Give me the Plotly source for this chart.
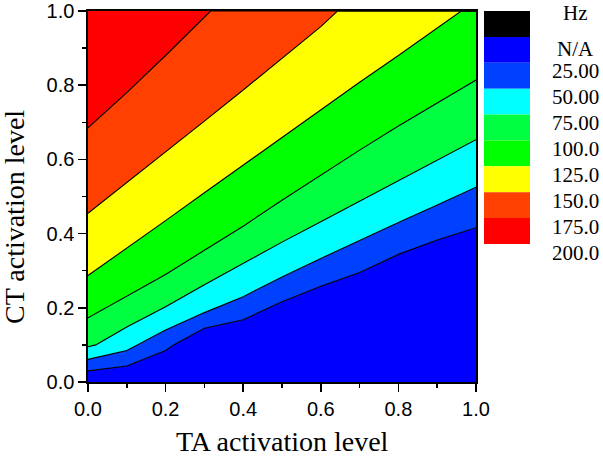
import plotly.graph_objects as go

# ---------------- data ----------------
# Contour boundary lines: x = TA activation level, y = CT activation level
lvl25_x = [0.0, 0.1, 0.2, 0.22, 0.3, 0.4, 0.5, 0.6, 0.7, 0.8, 0.9, 1.0]
lvl25_y = [0.030, 0.043, 0.085, 0.100, 0.145, 0.168, 0.216, 0.258, 0.295, 0.344, 0.383, 0.416]

lvl50_x = [0.0, 0.1, 0.2, 0.3, 0.4, 0.5, 0.6, 0.7, 0.8, 0.9, 1.0]
lvl50_y = [0.061, 0.085, 0.140, 0.187, 0.230, 0.283, 0.333, 0.382, 0.430, 0.477, 0.525]

lvl75_x = [0.0, 0.02, 0.1, 0.2, 0.3, 0.4, 0.5, 0.6, 0.7, 0.8, 0.9, 1.0]
lvl75_y = [0.095, 0.100, 0.148, 0.203, 0.262, 0.320, 0.377, 0.432, 0.487, 0.542, 0.597, 0.653]

lvl100_x = [0.0, 0.1, 0.2, 0.3, 0.4, 0.5, 0.6, 0.7, 0.8, 0.9, 1.0]
lvl100_y = [0.173, 0.232, 0.290, 0.355, 0.420, 0.490, 0.558, 0.625, 0.690, 0.752, 0.814]

lvl125_x = [0.0, 0.1, 0.2, 0.3, 0.4, 0.5, 0.6, 0.7, 0.8, 0.9, 0.962]
lvl125_y = [0.287, 0.360, 0.435, 0.510, 0.585, 0.660, 0.735, 0.808, 0.880, 0.953, 1.0]

lvl150_x = [0.0, 0.1, 0.2, 0.3, 0.4, 0.5, 0.6, 0.643]
lvl150_y = [0.455, 0.537, 0.620, 0.703, 0.787, 0.872, 0.958, 1.0]

lvl175_x = [0.0, 0.1, 0.2, 0.3, 0.316]
lvl175_y = [0.685, 0.780, 0.880, 0.983, 1.0]

levels = [25, 50, 75, 100, 125, 150, 175]
lines_x = [lvl25_x, lvl50_x, lvl75_x, lvl100_x, lvl125_x, lvl150_x, lvl175_x]
lines_y = [lvl25_y, lvl50_y, lvl75_y, lvl100_y, lvl125_y, lvl150_y, lvl175_y]

# Legend (colour key) entries, top to bottom
cb_colors = ["#000000", "#0000FF", "#0040FF", "#00FFFF", "#00FF40",
             "#00FF00", "#FFFF00", "#FF4000", "#FF0000"]
cb_labels = ["Hz", "N/A", "25.00", "50.00", "75.00", "100.0",
             "125.0", "150.0", "175.0", "200.0"]

band_colors = cb_colors[1:]  # 0-25, 25-50, ..., 175-200

X_MIN, X_MAX = 0.0, 1.0
Y_MIN, Y_MAX = 0.0, 1.0

# ---------------- figure ----------------
fig = go.Figure()

# baseline of the lowest band (bottom of the plot)
fig.add_trace(go.Scatter(x=[X_MIN, X_MAX], y=[Y_MIN, Y_MIN], mode="lines",
                         line=dict(width=0, color="rgba(0,0,0,0)"),
                         hoverinfo="skip", showlegend=False))

for i, (lx, ly) in enumerate(zip(lines_x, lines_y)):
    xs = list(lx)
    ys = list(ly)
    if ys[-1] >= Y_MAX and xs[-1] < X_MAX:
        # line leaves through the top edge: follow the frame to the corner
        xs.append(X_MAX)
        ys.append(Y_MAX)
    fig.add_trace(go.Scatter(x=xs, y=ys, mode="lines",
                             line=dict(color="black", width=1.1),
                             fill="tonexty", fillcolor=band_colors[i],
                             name=str(levels[i]), hoverinfo="skip",
                             showlegend=False))

# top band (above the last line)
fig.add_trace(go.Scatter(x=[X_MIN, X_MAX], y=[Y_MAX, Y_MAX], mode="lines",
                         line=dict(width=0, color="rgba(0,0,0,0)"),
                         fill="tonexty", fillcolor=band_colors[-1],
                         hoverinfo="skip", showlegend=False))

# colour key as stacked blocks on a secondary axis
n_blocks = len(cb_colors)
fig.add_trace(go.Bar(x=[0] * n_blocks, y=[1] * n_blocks,
                     base=list(range(n_blocks)), width=1,
                     marker=dict(color=cb_colors, line=dict(width=0)),
                     xaxis="x2", yaxis="y2", hoverinfo="skip",
                     showlegend=False))

W, H = 603, 460
px0, px1 = 88, 476
py0, py1 = 11, 382
key_top, key_bot = 11, 244
block_h = (key_bot - key_top) / n_blocks

tick_font = dict(family="Liberation Sans, Arial, sans-serif", size=20, color="black")
serif = "Liberation Serif, Times New Roman, serif"

axis_common = dict(
    showgrid=False, zeroline=False, showline=True, linecolor="black",
    linewidth=1.6, mirror=True, ticks="outside", ticklen=8, tickwidth=1.5,
    tickcolor="black", tickfont=tick_font, tickformat=".1f", dtick=0.2,
    automargin=False,
    minor=dict(dtick=0.1, ticks="outside", ticklen=4, tickwidth=1.5,
               tickcolor="black", showgrid=False),
)

fig.update_layout(
    width=W, height=H, autosize=False,
    margin=dict(l=0, r=0, t=0, b=0, autoexpand=False),
    paper_bgcolor="white", plot_bgcolor="white",
    xaxis=dict(domain=[px0 / W, px1 / W], range=[X_MIN, X_MAX], tick0=0, **axis_common),
    yaxis=dict(domain=[1 - py1 / H, 1 - py0 / H], range=[Y_MIN, Y_MAX], tick0=0, **axis_common),
    xaxis2=dict(domain=[484 / W, 530 / W], range=[-0.5, 0.5], visible=False,
                anchor="y2", automargin=False),
    yaxis2=dict(domain=[1 - key_bot / H, 1 - key_top / H], range=[n_blocks, 0],
                visible=False, anchor="x2", automargin=False),
    barmode="overlay",
    showlegend=False,
)

# colour key labels (positions in block units from the top of the key)
label_pos = [0.08, 1.47] + [k + 0.33 for k in range(2, n_blocks + 1)]
for txt, pos in zip(cb_labels, label_pos):
    ypix = key_top + pos * block_h
    fig.add_annotation(text=txt, x=575 / W, xref="paper", y=1 - ypix / H, yref="paper",
                       xanchor="center", yanchor="middle", showarrow=False,
                       font=dict(family=serif, size=21, color="black"))

# axis titles
fig.add_annotation(text="TA activation level", x=282 / W, y=1 / H,
                   xref="paper", yref="paper", xanchor="center", yanchor="bottom",
                   showarrow=False, font=dict(family=serif, size=28, color="black"))
fig.add_annotation(text="CT activation level", x=14 / W, y=1 - 217 / H,
                   xref="paper", yref="paper", xanchor="center", yanchor="middle",
                   textangle=-90, showarrow=False,
                   font=dict(family=serif, size=28, color="black"))

fig.write_html(
    "out.html",
    config={"displayModeBar": False, "staticPlot": True},
    post_script="document.body.style.margin='0px';document.body.style.overflow='hidden';",
)
